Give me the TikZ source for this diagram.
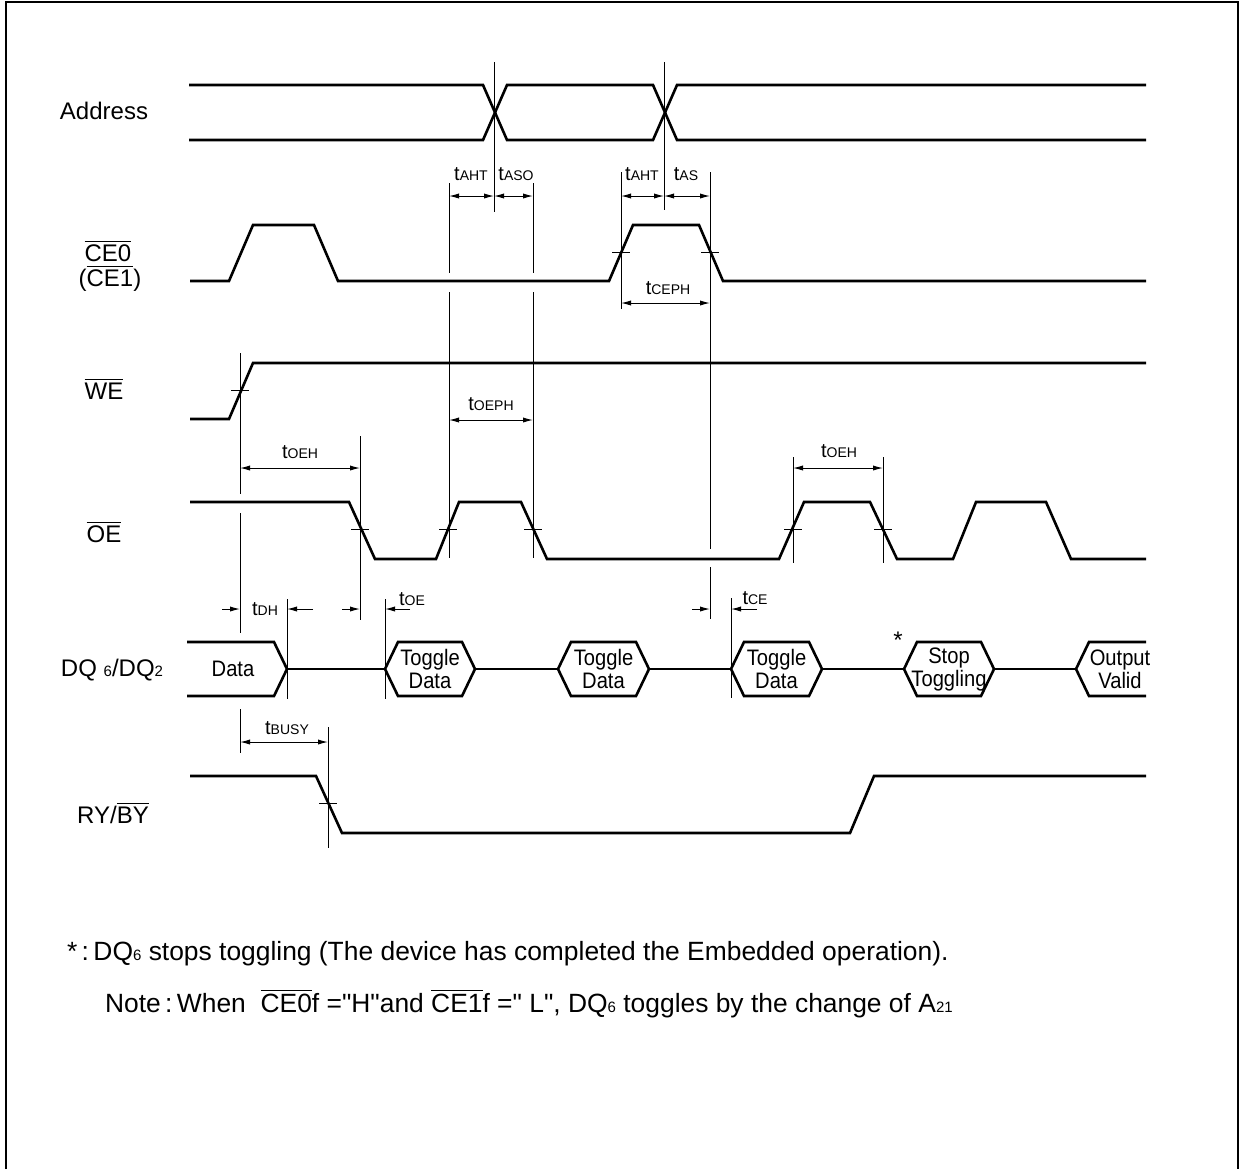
\documentclass[tikz,border=0pt]{standalone}
\usepackage{fontspec}
\setmainfont[Ligatures=TeXOff]{Liberation Sans}
\newfontfamily\boxfont[FakeStretch=0.9]{Liberation Sans}
\usetikzlibrary{arrows.meta}
\tikzset{
  sig/.style={line width=1.3pt, line join=miter},
  guide/.style={line width=0.5pt},
  tick/.style={line width=0.5pt},
  dimarr/.style={guide, {Latex[length=5pt,width=2.6pt]}-{Latex[length=5pt,width=2.6pt]}},
  inarr/.style={guide, -{Latex[length=5pt,width=2.6pt]}},
  signame/.style={font=\fontsize{12}{14}\selectfont, anchor=base},
  boxtxt/.style={font=\boxfont\fontsize{11.2}{11.5}\selectfont, align=center, inner sep=0pt},
  tlabel/.style={anchor=base, inner sep=0pt},
  notetxt/.style={anchor=base west, font=\fontsize{13.2}{15}\selectfont},
}
\newcommand\tsub[1]{{\fontsize{10}{12}\selectfont t}{\fontsize{7}{8}\selectfont #1}}
\newcommand\ovl[1]{$\overline{\mbox{#1}}$}
\newcommand\smalldig[1]{{\fontsize{7.5}{8}\selectfont #1}}
\begin{document}
\begin{tikzpicture}[x=0.5pt, y=-0.5pt]
  \useasboundingbox (0,0) rectangle (1240,1169);
  \draw[line width=1.3pt] (6,1169) -- (6,2) -- (1238,2) -- (1238,1169);

  % signal names
  \node[signame] (addr) at (104,119) {Address};
  \node[signame] (ce) at (108,261) {\ovl{CE0}};
  \node[signame] (ce1) at (110,286) {(\ovl{CE1})};
  \node[signame] (we) at (104,399) {\ovl{WE}};
  \node[signame] (oe) at (104,542) {\ovl{OE}};
  \node[signame] (dq) at (112,676) {DQ \smalldig{6}/DQ\smalldig{2}};
  \node[signame] (ry) at (113,823) {RY/\ovl{BY}};

  % waveforms
  \draw[sig] (189,85) -- (483,85) -- (507,140) -- (653,140) -- (677,85) -- (1146,85);
  \draw[sig] (189,140) -- (483,140) -- (507,85) -- (653,85) -- (677,140) -- (1146,140);
  \draw[sig] (190,281) -- (229,281) -- (253,225) -- (314,225) -- (338,281) -- (609,281)
    -- (633,225) -- (699,225) -- (723,281) -- (1146,281);
  \draw[sig] (190,419) -- (229,419) -- (253,363) -- (1146,363);
  \draw[sig] (190,502) -- (349,502) -- (375,559) -- (436,559) -- (459,502) -- (521,502)
    -- (547,559) -- (779,559) -- (804,502) -- (870,502) -- (897,559) -- (953,559)
    -- (976,502) -- (1046,502) -- (1071,559) -- (1146,559);
  \draw[sig] (190,776) -- (316,776) -- (342,833) -- (850,833) -- (874,776) -- (1146,776);

  % DQ bus
  \draw[sig] (187,642) -- (274,642) -- (287,669) -- (274,696) -- (187,696);
  \node[boxtxt] (data) at (233,669) {Data};
  \foreach \l/\r/\txt [count=\i] in {385/475/{Toggle\\Data}, 558/649/{Toggle\\Data},
      731/822/{Toggle\\Data}, 904/994/{Stop\\Toggling}} {
    \draw[sig] (\l,669) -- (\l+13,642) -- (\r-13,642) -- (\r,669) -- (\r-13,696)
      -- (\l+13,696) -- cycle;
    \node[boxtxt] (hex\i) at ({(\l+\r)/2},669) {\txt};
  }
  \draw[sig] (1146,642) -- (1089,642) -- (1076,669) -- (1089,696) -- (1146,696);
  \node[boxtxt] (outv) at (1120,669) {Output\\Valid};
  \draw[sig] (287,669) -- (385,669) (475,669) -- (558,669) (649,669) -- (731,669)
    (822,669) -- (904,669) (994,669) -- (1076,669);
  \node[font=\fontsize{12}{14}\selectfont] (star) at (898,640) {*};

  % guide lines
  \draw[guide] (494,62) -- (494,212) (664,62) -- (664,210);
  \draw[guide] (449,183) -- (449,273) (449,292) -- (449,558);
  \draw[guide] (533,183) -- (533,273) (533,292) -- (533,558);
  \draw[guide] (621,172) -- (621,309);
  \draw[guide] (710,172) -- (710,549) (710,567) -- (710,619);
  \draw[guide] (240,353) -- (240,494) (240,513) -- (240,633) (240,709) -- (240,753);
  \draw[guide] (360,436) -- (360,620);
  \draw[guide] (287,599) -- (287,699) (385,599) -- (385,699) (731,598) -- (731,698);
  \draw[guide] (793,457) -- (793,563) (883,457) -- (883,563);
  \draw[guide] (328,727) -- (328,848);

  % ticks on edges
  \foreach \x/\y in {621/252, 710/252, 240/390, 360/529, 448/529, 533/529,
      793/529, 883/529, 328/803}
    \draw[tick] (\x-9,\y) -- (\x+9,\y);

  % timing arrows
  \draw[dimarr] (449,196) -- (494,196);
  \draw[dimarr] (494,196) -- (533,196);
  \draw[dimarr] (621,196) -- (664,196);
  \draw[dimarr] (664,196) -- (710,196);
  \draw[dimarr] (621,303) -- (710,303);
  \draw[dimarr] (449,420) -- (533,420);
  \draw[dimarr] (240,468) -- (360,468);
  \draw[dimarr] (793,468) -- (883,468);
  \draw[dimarr] (240,742) -- (328,742);
  \draw[inarr] (222,609) -- (240,609);
  \draw[inarr] (313,609) -- (287,609);
  \draw[inarr] (342,609) -- (360,609);
  \draw[inarr] (410,609) -- (385,609);
  \draw[inarr] (692,609) -- (710,609);
  \draw[inarr] (757,609) -- (731,609);

  % timing names
  \node[tlabel] (taht) at (471,180) {\tsub{AHT}};
  \node[tlabel] (taso) at (516,180) {\tsub{ASO}};
  \node[tlabel] (taht2) at (642,180) {\tsub{AHT}};
  \node[tlabel] (tas) at (686,180) {\tsub{AS}};
  \node[tlabel] (tceph) at (668,294) {\tsub{CEPH}};
  \node[tlabel] (toeph) at (491,410) {\tsub{OEPH}};
  \node[tlabel] (toeh) at (300,458) {\tsub{OEH}};
  \node[tlabel] (toeh2) at (839,457) {\tsub{OEH}};
  \node[tlabel] (tdh) at (265,615) {\tsub{DH}};
  \node[tlabel] (toe) at (412,605) {\tsub{OE}};
  \node[tlabel] (tce) at (755,604) {\tsub{CE}};
  \node[tlabel] (tbusy) at (287,734) {\tsub{BUSY}};

  % notes
  \node[notetxt] (note1) at (60,960)
    {*\,:\,DQ\smalldig{6} stops toggling (The device has completed the Embedded operation).};
  \node[notetxt] (note2) at (98,1012)
    {Note\,:\,When \ \ovl{CE0}f ="H"and \ovl{CE1}f =" L", DQ\smalldig{6} toggles by the change of A\smalldig{21}};
\end{tikzpicture}
\end{document}
